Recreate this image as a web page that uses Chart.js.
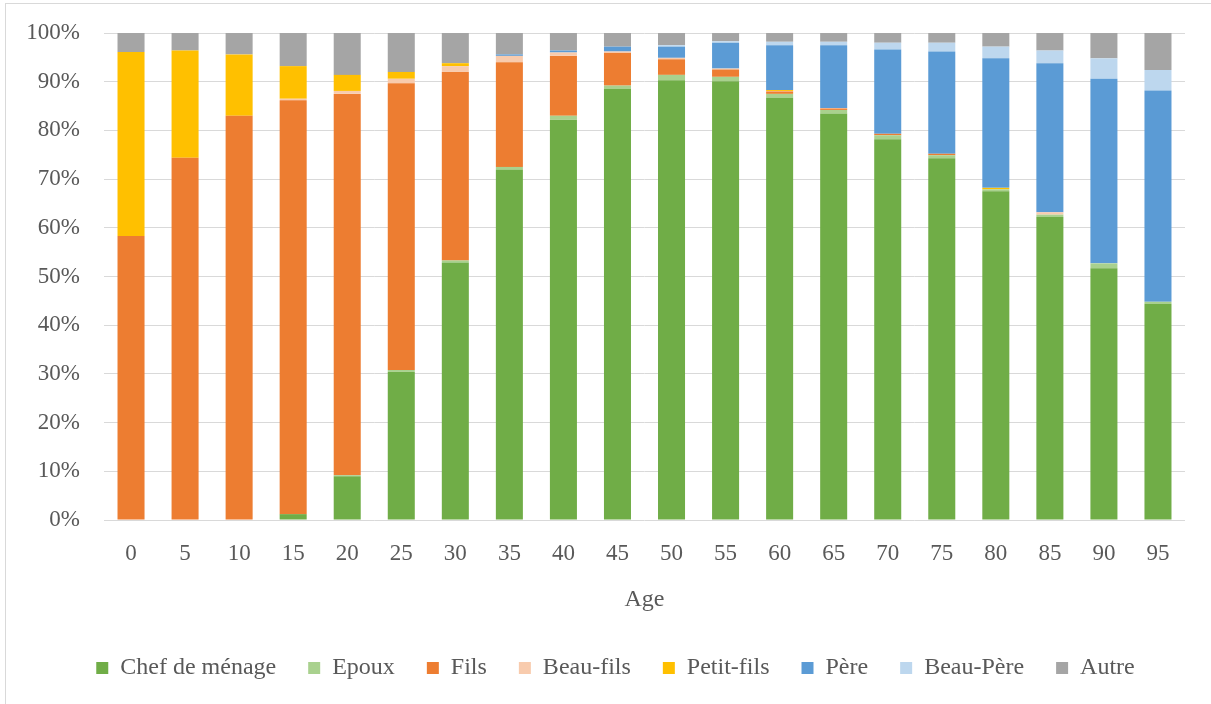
<!DOCTYPE html>
<html>
<head>
<meta charset="utf-8">
<script src="https://cdn.jsdelivr.net/npm/chart.js@4.4.1/dist/chart.umd.min.js"></script>
<style>
  html, body { margin: 0; padding: 0; background: #fff; }
  #wrap { position: relative; width: 1211px; height: 704px; overflow: hidden; }
  #frame { position: absolute; left: 5px; top: 3px; width: 1400px; height: 900px; border: 1px solid #d9d9d9; }
  #chart { position: absolute; left: 0; top: 0; }
</style>
</head>
<body>
<div id="wrap">
  <div id="frame"></div>
  <canvas id="chart" width="1211" height="704"></canvas>
</div>
<script>
// Age groups
const ages = [0, 5, 10, 15, 20, 25, 30, 35, 40, 45, 50, 55, 60, 65, 70, 75, 80, 85, 90, 95];

// Share of each relation to the household head (%)
const chef      = [0, 0, 0, 1.2, 9.0, 30.4, 52.8, 71.9, 82.2, 88.5, 90.3, 90.1, 86.7, 83.4, 78.2, 74.3, 67.5, 62.2, 51.7, 44.4];
const epoux     = [0, 0, 0, 0, 0.2, 0.4, 0.5, 0.6, 0.8, 0.7, 1.1, 0.9, 0.8, 0.8, 0.8, 0.6, 0.4, 0.5, 1.0, 0.4];
const fils      = [58.3, 74.4, 83.0, 85.0, 78.3, 58.9, 38.7, 21.5, 12.3, 6.7, 3.2, 1.5, 0.5, 0.3, 0.3, 0.3, 0, 0, 0, 0];
const beauFils  = [0, 0, 0, 0.3, 0.6, 0.9, 1.2, 1.3, 0.7, 0.3, 0.3, 0.2, 0.1, 0.1, 0, 0, 0, 0.5, 0, 0];
const petitFils = [37.8, 22.0, 12.6, 6.7, 3.3, 1.4, 0.6, 0, 0, 0, 0, 0, 0.2, 0, 0, 0, 0.3, 0, 0, 0];
const pere      = [0, 0, 0, 0, 0, 0, 0, 0.3, 0.4, 1.0, 2.3, 5.3, 9.2, 12.9, 17.3, 21.0, 26.6, 30.6, 37.9, 43.4];
const beauPere  = [0, 0, 0, 0, 0, 0, 0, 0, 0, 0, 0.3, 0.3, 0.7, 0.7, 1.4, 1.8, 2.4, 2.6, 4.2, 4.2];
const autre     = [3.9, 3.6, 4.4, 6.8, 8.6, 8.0, 6.2, 4.4, 3.6, 2.8, 2.5, 1.7, 1.8, 1.8, 2.0, 2.0, 2.8, 3.6, 5.2, 7.6];

const yTicks = [0, 10, 20, 30, 40, 50, 60, 70, 80, 90, 100];

const series = [
  { label: 'Chef de ménage', data: chef,      color: '#70AD47' },
  { label: 'Epoux',          data: epoux,     color: '#A9D18E' },
  { label: 'Fils',           data: fils,      color: '#ED7D31' },
  { label: 'Beau-fils',      data: beauFils,  color: '#F8CBAD' },
  { label: 'Petit-fils',     data: petitFils, color: '#FFC000' },
  { label: 'Père',           data: pere,      color: '#5B9BD5' },
  { label: 'Beau-Père',      data: beauPere,  color: '#BDD7EE' },
  { label: 'Autre',          data: autre,     color: '#A5A5A5' }
];

const font = 'Liberation Serif';
const textColor = '#595959';

// the legend is centred on the whole frame, not on the plot
const legendShift = {
  id: 'legendShift',
  afterLayout(chart) {
    chart.legend.left += 23;
    chart.legend.right += 23;
  }
};

new Chart(document.getElementById('chart'), {
  type: 'bar',
  data: {
    labels: ages,
    datasets: series.map(s => ({
      label: s.label,
      data: s.data,
      backgroundColor: s.color,
      borderWidth: 0,
      barPercentage: 0.5,
      categoryPercentage: 1
    }))
  },
  options: {
    responsive: false,
    animation: false,
    layout: { padding: { left: 0, right: 26, top: 33, bottom: 14 } },
    plugins: {
      tooltip: { enabled: false },
      legend: {
        position: 'bottom',
        labels: {
          boxWidth: 12,
          boxHeight: 12,
          padding: 32,
          color: textColor,
          font: { family: font, size: 24 }
        }
      }
    },
    scales: {
      x: {
        stacked: true,
        grid: { display: false, drawTicks: false },
        border: { display: false },
        ticks: { color: textColor, padding: 20, font: { family: font, size: 23 } },
        title: {
          display: true,
          text: 'Age',
          color: textColor,
          font: { family: font, size: 24 },
          padding: { top: 14, bottom: 10 }
        },
        afterFit: scale => { scale.height = 104; }
      },
      y: {
        stacked: true,
        min: 0,
        max: 100,
        afterBuildTicks: scale => { scale.ticks = yTicks.map(v => ({ value: v })); },
        grid: { color: '#d9d9d9', lineWidth: 1, drawTicks: false },
        border: { display: false },
        ticks: {
          color: textColor,
          padding: 24,
          font: { family: font, size: 23 },
          callback: v => v + '%'
        },
        afterFit: scale => {
          scale.width = 104;
          scale.paddingTop = 0;
          scale.paddingBottom = 0;
        }
      }
    }
  },
  plugins: [legendShift]
});
</script>
</body>
</html>
